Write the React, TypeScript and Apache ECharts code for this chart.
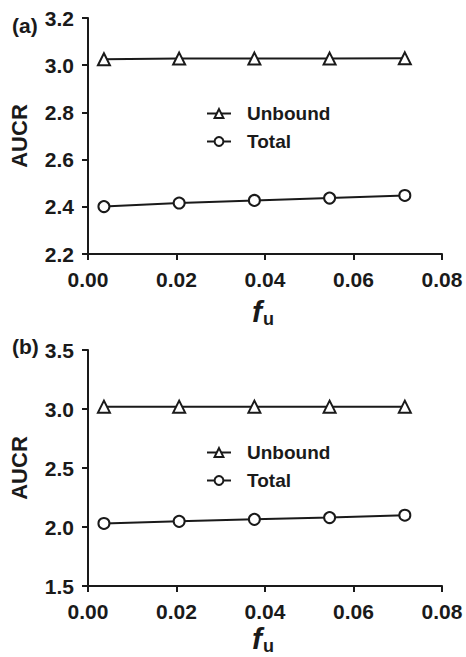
import React, { useEffect, useRef } from "react";
import * as echarts from "echarts";

const fuValues = [0.0036, 0.0206, 0.0376, 0.0546, 0.0716];
const unboundA = [3.025, 3.028, 3.028, 3.028, 3.029];
const totalA = [2.401, 2.416, 2.427, 2.437, 2.448];
const unboundB = [3.02, 3.02, 3.02, 3.02, 3.02];
const totalB = [2.03, 2.048, 2.065, 2.08, 2.1];
const seriesNames = ["Unbound", "Total"];
const panelLabels = ["(a)", "(b)"];

const FONT = "'Liberation Sans', Arial, Helvetica, sans-serif";
const INK = "#1a1a1a";

const pair = (ys: number[]) => fuValues.map((x, i) => [x, ys[i]]);

export default function App() {
  const ref = useRef<HTMLDivElement>(null);
  useEffect(() => {
    document.body.style.margin = "0";
    const chart = echarts.init(ref.current!, null, { renderer: "svg" });
    const grids = [
      { left: 88, right: 24, top: 18, height: 236 },
      { left: 88, right: 24, top: 350, height: 236 },
    ];
    const xAxis = grids.map((_, i) => ({
      type: "value",
      gridIndex: i,
      min: 0,
      max: 0.08,
      interval: 0.02,
      splitLine: { show: false },
      axisLine: { lineStyle: { color: INK, width: 2 } },
      axisTick: { length: 6, lineStyle: { color: INK, width: 2 } },
      axisLabel: {
        color: INK,
        fontSize: 21,
        fontWeight: "bold",
        fontFamily: FONT,
        margin: 15,
        formatter: (v: number) => v.toFixed(2),
      },
    }));
    const yAxis = [
      { min: 2.2, max: 3.2, interval: 0.2 },
      { min: 1.5, max: 3.5, interval: 0.5 },
    ].map((r, i) => ({
      type: "value",
      gridIndex: i,
      ...r,
      name: "AUCR",
      nameLocation: "middle",
      nameGap: 58,
      nameTextStyle: { color: INK, fontSize: 22, fontWeight: "bold", fontFamily: FONT },
      splitLine: { show: false },
      axisLine: { show: true, lineStyle: { color: INK, width: 2 } },
      axisTick: { show: true, length: 6, lineStyle: { color: INK, width: 2 } },
      axisLabel: {
        color: INK,
        fontSize: 21,
        fontWeight: "bold",
        fontFamily: FONT,
        margin: 14,
        formatter: (v: number) => v.toFixed(1),
      },
    }));
    const mk = (name: string, data: number[][], idx: number, symbol: string) => ({
      name,
      type: "line",
      xAxisIndex: idx,
      yAxisIndex: idx,
      data,
      symbol,
      symbolSize: symbol === "circle" ? 11 : 12,
      lineStyle: { color: INK, width: 2 },
      itemStyle: { color: "#ffffff", borderColor: INK, borderWidth: 2 },
    });
    const legend = [99, 438].map((top) => ({
      top,
      left: 201,
      orient: "vertical",
      itemWidth: 24,
      itemHeight: 11,
      itemGap: 9,
      data: seriesNames,
      textStyle: { color: INK, fontSize: 19, fontWeight: "bold", fontFamily: FONT, padding: [0, 0, 0, 11] },
      selectedMode: false,
    }));
    const fuLabel = (dy: number) => [
      {
        type: "text",
        x: 252,
        y: 311 + dy,
        style: { text: "f", fontSize: 30, lineHeight: 22, fontWeight: "bold", fontStyle: "italic", fontFamily: FONT, fill: INK, verticalAlign: "middle" },
      },
      {
        type: "text",
        x: 263,
        y: 319 + dy,
        style: { text: "u", fontSize: 18, lineHeight: 14, fontWeight: "bold", fontFamily: FONT, fill: INK, verticalAlign: "middle" },
      },
    ];
    const panelText = (t: string, y: number) => ({
      type: "text",
      x: 12,
      y,
      style: { text: t, fontSize: 21, fontWeight: "bold", fontFamily: FONT, fill: INK, verticalAlign: "middle" },
    });
    chart.setOption({
      animation: false,
      backgroundColor: "#ffffff",
      grid: grids,
      xAxis,
      yAxis,
      legend,
      series: [
        mk(seriesNames[0], pair(unboundA), 0, "triangle"),
        mk(seriesNames[1], pair(totalA), 0, "circle"),
        mk(seriesNames[0], pair(unboundB), 1, "triangle"),
        mk(seriesNames[1], pair(totalB), 1, "circle"),
      ],
      graphic: [
        panelText(panelLabels[0], 25),
        panelText(panelLabels[1], 346),
        ...fuLabel(0),
        ...fuLabel(327),
      ],
    });
    return () => chart.dispose();
  }, []);
  return <div ref={ref} style={{ width: 466, height: 657 }} />;
}
